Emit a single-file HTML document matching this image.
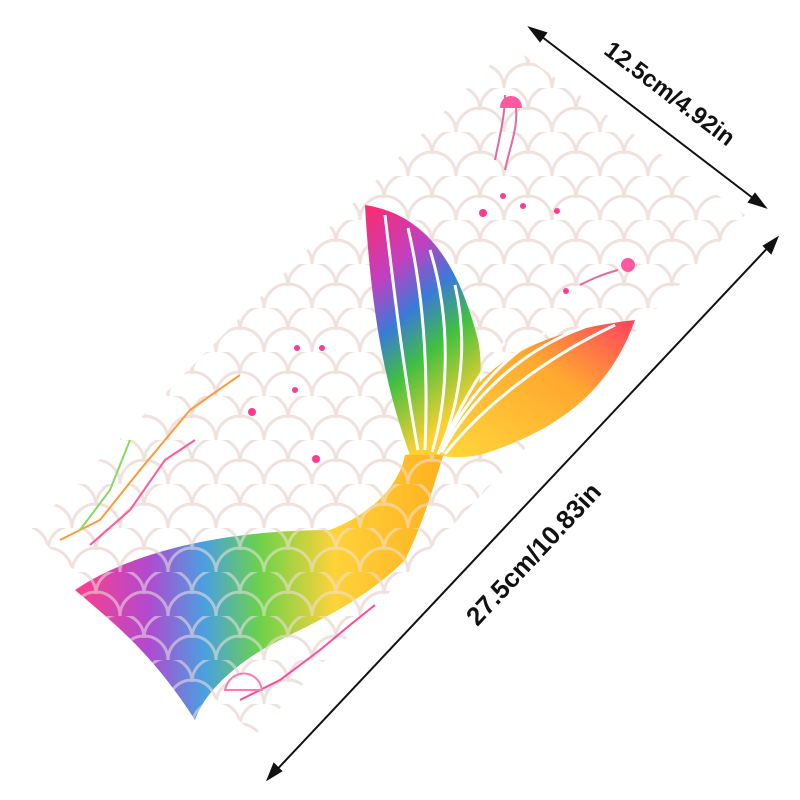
<!DOCTYPE html>
<html><head><meta charset="utf-8"><style>
html,body{margin:0;padding:0;background:#fff;}
svg{display:block}
</style></head><body>
<svg width="800" height="800" viewBox="0 0 800 800" xmlns="http://www.w3.org/2000/svg">
<defs>
<pattern id="sc" width="48" height="44" patternUnits="userSpaceOnUse">
<path d="M0,22 A24,24 0 0 1 48,22 M-24,44 A24,24 0 0 1 24,44 M24,44 A24,24 0 0 1 72,44 M-24,0 A24,24 0 0 1 24,0 M24,0 A24,24 0 0 1 72,0" fill="none" stroke="#efe2de" stroke-width="3"/>
</pattern>
<clipPath id="cp"><polygon points="510,45 745,215 255,735 30,530"/></clipPath>
<linearGradient id="body" x1="0" y1="0" x2="1" y2="0">
<stop offset="0" stop-color="#ff3e8a"/><stop offset="0.2" stop-color="#b04ad0"/>
<stop offset="0.35" stop-color="#4aa0e0"/><stop offset="0.5" stop-color="#6cd24a"/>
<stop offset="0.7" stop-color="#ffd23a"/><stop offset="1" stop-color="#ffb020"/>
</linearGradient>
<linearGradient id="lf" x1="0" y1="0" x2="0.4" y2="1">
<stop offset="0" stop-color="#ff2a6a"/><stop offset="0.3" stop-color="#c040c0"/>
<stop offset="0.5" stop-color="#3a7ad8"/><stop offset="0.7" stop-color="#40c040"/>
<stop offset="1" stop-color="#ffd030"/>
</linearGradient>
<linearGradient id="rf" x1="0" y1="1" x2="1" y2="0">
<stop offset="0" stop-color="#ffd83a"/><stop offset="0.6" stop-color="#ffa830"/>
<stop offset="1" stop-color="#ff4060"/>
</linearGradient>
</defs>
<g clip-path="url(#cp)">
<rect width="800" height="800" fill="#fff"/>
<rect width="800" height="800" fill="url(#sc)"/>
</g>
<path d="M75,590 C150,540 260,530 330,530 C380,510 400,480 405,455 L445,450 C435,480 425,520 405,560 C365,600 320,620 280,640 C240,660 205,690 195,720 C150,650 110,620 75,590 Z" fill="url(#body)"/>
<g opacity="0.55">
<path d="M75,590 C150,540 260,530 330,530 C380,510 400,480 405,455 L445,450 C435,480 425,520 405,560 C365,600 320,620 280,640 C240,660 205,690 195,720 C150,650 110,620 75,590 Z" fill="url(#sc)"/>
</g>
<path d="M365,205 C430,215 460,270 478,340 C488,390 468,425 442,455 L410,455 C390,400 372,330 365,205 Z" fill="url(#lf)"/>
<path d="M440,455 C460,390 500,335 635,320 C610,390 560,430 480,455 C462,458 450,458 440,455 Z" fill="url(#rf)"/>
<g fill="none" stroke="#fff" stroke-width="3">
<path d="M385,215 C395,300 405,380 418,450"/>
<path d="M408,228 C425,300 428,380 425,450"/>
<path d="M430,250 C452,320 448,400 432,452"/>
<path d="M455,285 C470,350 458,410 438,454"/>
<path d="M615,325 C540,360 480,410 445,454"/>
<path d="M585,327 C520,350 470,400 442,452"/>
<path d="M545,333 C500,360 465,400 440,452"/>
<path d="M505,342 C480,370 458,410 440,452"/>
</g>
<g fill="#ff3b8f">
<circle cx="297" cy="348" r="3"/><circle cx="322" cy="348" r="3"/><circle cx="295" cy="390" r="3"/><circle cx="252" cy="412" r="4"/>
<circle cx="316" cy="459" r="4"/><circle cx="483" cy="213" r="4"/><circle cx="503" cy="196" r="3"/><circle cx="523" cy="206" r="3"/>
<circle cx="557" cy="211" r="3"/><circle cx="566" cy="291" r="3"/>
</g>
<g fill="none" stroke-width="2">
<path d="M60,540 L100,520 L140,470 L190,410 L240,375" stroke="#ff9a3a"/>
<path d="M90,545 L130,510 L165,460 L195,440" stroke="#ff5a9a"/>
<path d="M80,530 L110,490 L130,440" stroke="#8ad860"/>
<path d="M240,700 L280,680 L320,650 L350,625 L375,605" stroke="#ff4a9a"/>
</g>
<path d="M505,95 C505,115 500,135 495,160 M515,100 C520,125 510,145 505,170" stroke="#e06aa0" stroke-width="2" fill="none"/>
<path d="M500,108 C500,92 522,92 522,108 Z" fill="#ff5aa0"/>
<path d="M618,270 C600,275 590,280 580,285" stroke="#e06aa0" stroke-width="2" fill="none"/>
<circle cx="628" cy="265" r="7" fill="#ff5aa0"/>
<path d="M225,690 C230,668 258,668 262,690 Z" fill="#fff" stroke="#ff7ab0" stroke-width="2"/>
<g stroke="#111" stroke-width="2" fill="#111">
<line x1="533" y1="30" x2="762" y2="205"/>
<polygon points="530,28 546,33 540,41"/>
<polygon points="765,207 749,202 755,194"/>
<line x1="775" y1="240" x2="270" y2="777"/>
<polygon points="777,238 771,253 764,246"/>
<polygon points="268,779 274,764 281,771"/>
</g>
<text x="665" y="100" transform="rotate(37 665 100)" text-anchor="middle" font-family="Liberation Sans, sans-serif" font-weight="bold" font-size="24" fill="#111">12.5cm/4.92in</text>
<text x="540" y="560" transform="rotate(-47 540 560)" text-anchor="middle" font-family="Liberation Sans, sans-serif" font-weight="bold" font-size="26" fill="#111">27.5cm/10.83in</text>
</svg>
</body></html>
